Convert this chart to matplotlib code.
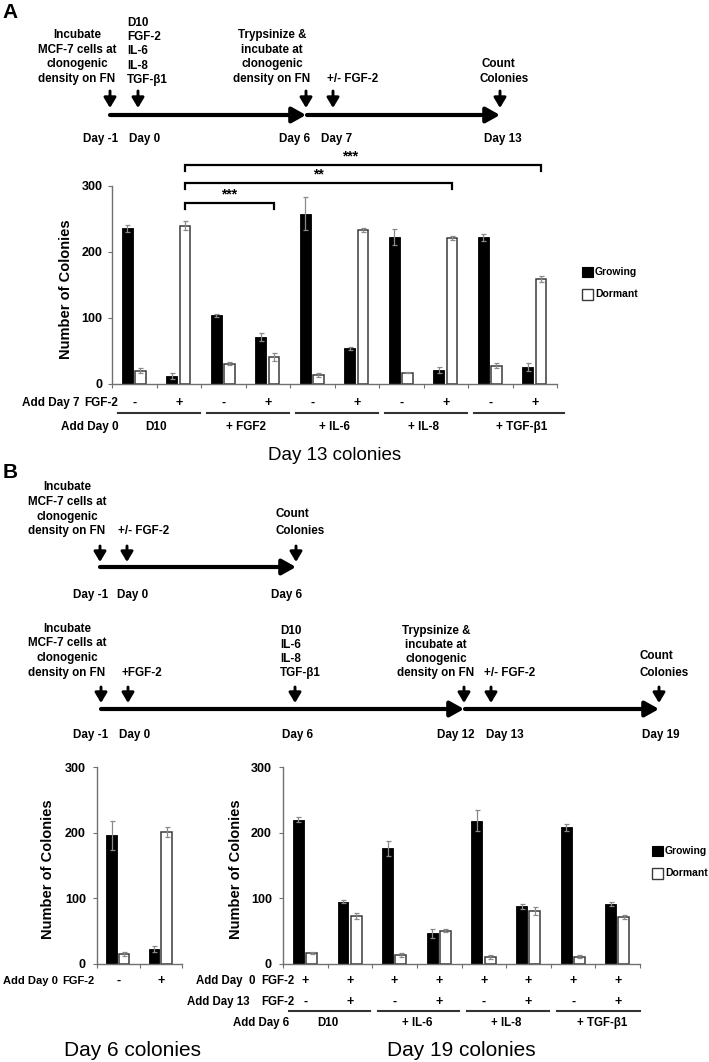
import matplotlib
matplotlib.use('Agg')
import matplotlib.pyplot as plt
from matplotlib.patches import Rectangle
import matplotlib.transforms as mtransforms
import numpy as np

plt.rcParams['font.family'] = ['Liberation Sans', 'DejaVu Sans']

W, H = 709, 1062

# ---------------- Panel A data (Day 13 colonies) ----------------
a_day7_fgf2 = ['-', '+', '-', '+', '-', '+', '-', '+', '-', '+']
a_day0_groups = ['D10', '+ FGF2', '+ IL-6', '+ IL-8', '+ TGF-β1']
a_growing = [236, 12, 104, 71, 258, 54, 223, 21, 222, 26]
a_growing_err = [5, 4, 2, 6, 25, 2, 12, 5, 6, 6]
a_dormant = [20, 240, 31, 41, 14, 234, 17, 221, 28, 159]
a_dormant_err = [4, 7, 2, 6, 3, 3, 1, 3, 4, 5]
a_signif = [('***', 1, 3), ('**', 1, 7), ('***', 1, 9)]

# ---------------- Panel B data (Day 6 colonies) ----------------
b6_day0_fgf2 = ['-', '+']
b6_growing = [196, 23]
b6_growing_err = [22, 4]
b6_dormant = [15, 201]
b6_dormant_err = [3, 8]

# ---------------- Panel B data (Day 19 colonies) ----------------
b19_day0_fgf2 = ['+', '+', '+', '+', '+', '+', '+', '+']
b19_day13_fgf2 = ['-', '+', '-', '+', '-', '+', '-', '+']
b19_day6_groups = ['D10', '+ IL-6', '+ IL-8', '+ TGF-β1']
b19_growing = [220, 95, 176, 47, 218, 88, 208, 91]
b19_growing_err = [4, 2, 11, 7, 16, 4, 5, 3]
b19_dormant = [17, 73, 13, 51, 11, 81, 11, 71]
b19_dormant_err = [2, 4, 3, 3, 3, 6, 2, 3]

yticks = [0, 100, 200, 300]

fig = plt.figure(figsize=(W / 100, H / 100), dpi=100)
ov = fig.add_axes([0, 0, 1, 1])
ov.set_xlim(0, W)
ov.set_ylim(H, 0)
ov.axis('off')

TXT = 8.4
GRAY = '#707070'


def px_axes(x0, y0, x1, y1):
    return fig.add_axes([x0 / W, 1 - y1 / H, (x1 - x0) / W, (y1 - y0) / H])


def t(x, y, s, size=TXT, ha='center', weight='bold', **kw):
    ov.text(x, y, s, fontsize=size, ha=ha, va='center', fontweight=weight, **kw)


def harrow(x0, x1, y):
    ov.annotate('', xy=(x1, y), xytext=(x0, y),
                arrowprops=dict(arrowstyle='-|>,head_length=0.75,head_width=0.42',
                                lw=3.0, color='black', shrinkA=0, shrinkB=0,
                                mutation_scale=11))


def varrow(x, y0, y1):
    ov.annotate('', xy=(x, y1), xytext=(x, y0),
                arrowprops=dict(arrowstyle='-|>,head_length=0.55,head_width=0.33',
                                lw=2.1, color='black', shrinkA=0, shrinkB=0,
                                mutation_scale=11))


def block(x, ys, lines, ha='center'):
    for yy, s in zip(ys, lines):
        t(x, yy, s, ha=ha)


def bars(ax, growing, gerr, dormant, derr, pad):
    n = len(growing)
    x = np.arange(n)
    ax.bar(x - 0.155, growing, 0.245, color='black', edgecolor='black', lw=0.6, zorder=2)
    ax.bar(x + 0.14, dormant, 0.245, color='white', edgecolor='#3a3a3a', lw=1.1, zorder=2)
    ax.errorbar(x - 0.155, growing, yerr=gerr, fmt='none', ecolor='#8a8a8a',
                elinewidth=0.9, capsize=1.8, capthick=0.9, zorder=3)
    ax.errorbar(x + 0.14, dormant, yerr=derr, fmt='none', ecolor='#8a8a8a',
                elinewidth=0.9, capsize=1.8, capthick=0.9, zorder=3)
    ax.set_xlim(-0.5, n - 0.5)
    ax.set_ylim(0, 300)
    for s in ['top', 'right']:
        ax.spines[s].set_visible(False)
    for s in ['left', 'bottom']:
        ax.spines[s].set_color(GRAY)
        ax.spines[s].set_linewidth(1.0)
    ax.set_yticks(yticks)
    ax.set_yticklabels([str(v) for v in yticks], fontweight='bold')
    ax.set_xticks(np.arange(n + 1) - 0.5)
    ax.set_xticklabels([])
    ax.tick_params(axis='y', direction='out', length=3, color=GRAY, labelsize=9, pad=pad)
    ax.tick_params(axis='x', direction='out', length=3, color=GRAY)
    ax.patch.set_visible(False)
    return mtransforms.blended_transform_factory(ax.transData, ov.transData)


def legend(x, y1, y2):
    ov.add_patch(Rectangle((x, y1 - 5), 11, 10, facecolor='black', edgecolor='black', lw=0.8))
    ov.add_patch(Rectangle((x, y2 - 5.5), 11, 11, facecolor='white', edgecolor='#3a3a3a', lw=1.0))
    t(x + 13, y1, 'Growing', size=7.5, ha='left')
    t(x + 13, y2, 'Dormant', size=7.5, ha='left')


# ======================= Panel A =======================
t(2, 12, 'A', size=15, ha='left')
block(77, [35, 49.7, 64.3, 79], ['Incubate', 'MCF-7 cells at', 'clonogenic', 'density on FN'])
block(127, [23, 37.2, 51.4, 65.6, 80], ['D10', 'FGF-2', 'IL-6', 'IL-8', 'TGF-β1'], ha='left')
block(272, [35, 49.7, 64.3, 79], ['Trypsinize &', 'incubate at', 'clonogenic', 'density on FN'])
t(327, 79, '+/- FGF-2', ha='left')
t(482, 64, 'Count', ha='left')
t(480, 79, 'Colonies', ha='left')
for xx in [110, 138, 306, 333, 500]:
    varrow(xx, 91, 108)
harrow(110, 306, 115)
harrow(307, 500, 115)
for xx, s in [(101, 'Day -1'), (145, 'Day 0'), (295, 'Day 6'), (337, 'Day 7'), (503, 'Day 13')]:
    t(xx, 139, s)

axA = px_axes(112, 186, 557, 384)
trA = bars(axA, a_growing, a_growing_err, a_dormant, a_dormant_err, pad=4)
t(66, 289, 'Number of Colonies', size=10.5, rotation=90)

# significance brackets
br_levels = [274, 305, 332]
for (star, i0, i1), lev in zip(a_signif, br_levels):
    x0, x1 = i0 + 0.14, i1 + 0.14
    axA.plot([x0, x0, x1, x1], [lev - 9, lev, lev, lev - 9], color='black', lw=1.6,
             clip_on=False, solid_joinstyle='miter')
    axA.text((x0 + x1) / 2 - (0.3 if i1 == 9 else 0), lev + 2, star, ha='center', va='bottom',
             fontsize=10, fontweight='bold', clip_on=False)

t(80, 403, 'Add Day 7', size=8.5, ha='right')
t(118, 403, 'FGF-2', size=8.5, ha='right')
for i, s in enumerate(a_day7_fgf2):
    ov.text(i, 403, s, transform=trA, fontsize=9, fontweight='bold', ha='center', va='center')
for g, s in enumerate(a_day0_groups):
    x0 = 2 * g - 0.5 + 0.13
    x1 = 2 * g + 1.5 - 0.03 + (0.18 if g == 4 else 0)
    ov.plot([x0, x1], [413, 413], transform=trA, color='#333333', lw=1.5, clip_on=False)
    ov.text(2 * g + 0.5 + (0.2 if g == 4 else 0), 427, s, transform=trA, fontsize=8.5,
            fontweight='bold', ha='center', va='center')
t(119, 427, 'Add Day 0', size=8.5, ha='right')
legend(582, 272, 294)
t(335, 455, 'Day 13 colonies', size=13.5, weight='normal')

# ======================= Panel B =======================
t(3, 472, 'B', size=15, ha='left')
# timeline 1
block(67, [487, 502, 517, 531], ['Incubate', 'MCF-7 cells at', 'clonogenic', 'density on FN'])
t(118, 531, '+/- FGF-2', ha='left')
t(276, 514, 'Count', ha='left')
t(276, 531, 'Colonies', ha='left')
for xx in [100, 127, 296]:
    varrow(xx, 546, 562)
harrow(100, 296, 567)
for xx, s in [(91, 'Day -1'), (133, 'Day 0'), (287, 'Day 6')]:
    t(xx, 595, s)

# timeline 2
block(67, [629, 643.5, 658, 673], ['Incubate', 'MCF-7 cells at', 'clonogenic', 'density on FN'])
t(122, 673, '+FGF-2', ha='left')
block(280, [631, 645, 659, 673], ['D10', 'IL-6', 'IL-8', 'TGF-β1'], ha='left')
block(436, [631, 645, 659, 673], ['Trypsinize &', 'incubate at', 'clonogenic', 'density on FN'])
t(484, 673, '+/- FGF-2', ha='left')
t(640, 656, 'Count', ha='left')
t(639, 673, 'Colonies', ha='left')
for xx in [101, 128, 295, 464, 491, 659]:
    varrow(xx, 687, 703)
harrow(101, 464, 709)
harrow(465, 659, 709)
for xx, s in [(91, 'Day -1'), (135, 'Day 0'), (298, 'Day 6'), (456, 'Day 12'),
              (505, 'Day 13'), (661, 'Day 19')]:
    t(xx, 735, s)

# Day 6 chart
axB1 = px_axes(97, 767, 182, 964)
trB1 = bars(axB1, b6_growing, b6_growing_err, b6_dormant, b6_dormant_err, pad=5)
t(48, 869, 'Number of Colonies', size=10.5, rotation=90)
t(3, 981, 'Add Day 0', size=8, ha='left')
t(62, 981, 'FGF-2', size=8, ha='left')
for i, s in enumerate(b6_day0_fgf2):
    ov.text(i, 981, s, transform=trB1, fontsize=9, fontweight='bold', ha='center', va='center')
t(133, 1050, 'Day 6 colonies', size=15, weight='normal')

# Day 19 chart
axB2 = px_axes(283, 767, 640, 964)
trB2 = bars(axB2, b19_growing, b19_growing_err, b19_dormant, b19_dormant_err, pad=5)
t(236, 869, 'Number of Colonies', size=10.5, rotation=90)
t(255, 981, 'Add Day  0', size=8.3, ha='right')
t(295, 981, 'FGF-2', size=8.3, ha='right')
t(250, 1002, 'Add Day 13', size=8.3, ha='right')
t(295, 1002, 'FGF-2', size=8.3, ha='right')
t(289, 1023, 'Add Day 6', size=8.3, ha='right')
for i, s in enumerate(b19_day0_fgf2):
    ov.text(i, 981, s, transform=trB2, fontsize=9, fontweight='bold', ha='center', va='center')
for i, s in enumerate(b19_day13_fgf2):
    ov.text(i, 1002, s, transform=trB2, fontsize=9, fontweight='bold', ha='center', va='center')
for g, s in enumerate(b19_day6_groups):
    x0 = 2 * g - 0.5 + 0.13
    x1 = 2 * g + 1.5 - 0.05 + (0.06 if g == 3 else 0)
    ov.plot([x0, x1], [1011, 1011], transform=trB2, color='#333333', lw=1.5, clip_on=False)
    ov.text(2 * g + 0.5 + (0.15 if g == 3 else 0), 1023, s, transform=trB2, fontsize=8.3,
            fontweight='bold', ha='center', va='center')
legend(652, 851, 873)
t(461, 1050, 'Day 19 colonies', size=15, weight='normal')

fig.savefig('out.png', dpi=100)
